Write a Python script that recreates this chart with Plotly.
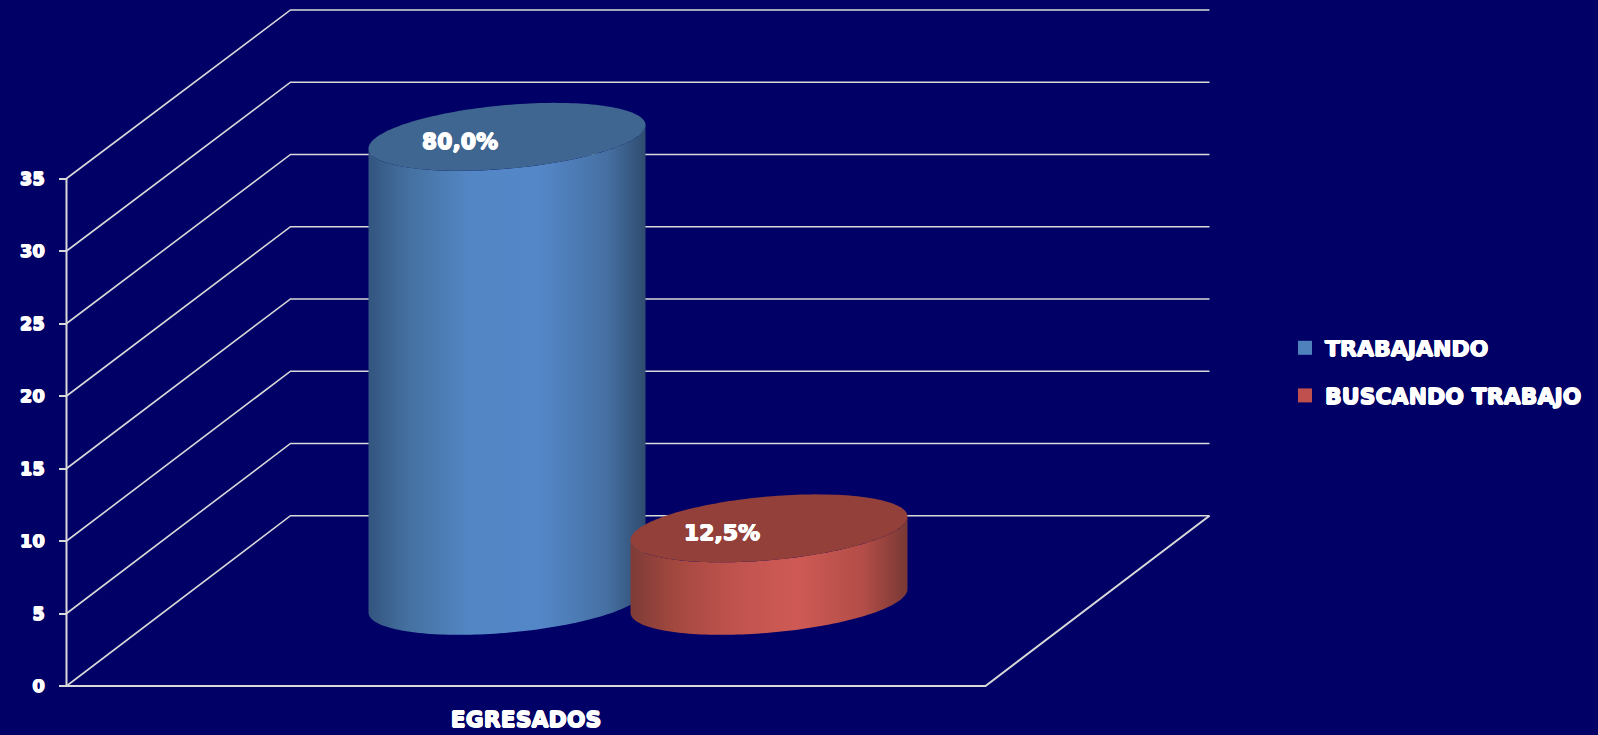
import numpy as np
import plotly.graph_objects as go

# ---------- data ----------
categories = ["EGRESADOS"]
series_names = ["TRABAJANDO", "BUSCANDO TRABAJO"]
series_values = [32, 5]
value_labels = ["80,0%", "12,5%"]
y_ticks = [0, 5, 10, 15, 20, 25, 30, 35]

# ---------- style / geometry ----------
BG = "#000066"
LINE = "#d9d9d9"
FONT = "DejaVu Sans"
W, H = 1598, 735
X0, Y0 = 66.5, 686.0          # front-left corner of the floor (px)
FLOOR_W = 919.0               # front edge length (px)
DX, DY = 224.0, 170.3         # offset of the back wall (px)
K = 14.5                      # px per value unit
BACK = 0.9965                 # back wall is very slightly shorter
rise = DY / K
CAT_X = X0 + FLOOR_W / 2
SLOT = 131.0                  # bar offset from the category centre
A, B, C = 138.5, 11.7, 31.9   # ellipse of a cylinder end
DEPTH = 0.5
HEAVY = "0.7px 0 0 #fff,-0.7px 0 0 #fff,0 0.7px 0 #fff,0 -0.7px 0 #fff"

sides = [
    [[0, "#33557f"], [0.14, "#44709f"], [0.36, "#5386c4"], [0.62, "#5487c8"], [0.86, "#4670a3"], [1, "#2f4c70"]],
    [[0, "#7e3b37"], [0.16, "#a3483f"], [0.36, "#bf524d"], [0.6, "#cf5a55"], [0.84, "#b34d47"], [1, "#783835"]],
]
tops = ["#3f6690", "#933f3a"]
swatches = ["#4f81bd", "#c0504d"]


def heavy_font(size):
    return dict(family=FONT, size=size, color="white", weight="bold", shadow=HEAVY)


fig = go.Figure()

# walls and floor, all projected from the axis values
wx, wy = [], []
for v in y_ticks:
    wx += [X0, X0 + DX, X0 + DX + FLOOR_W, None]
    wy += [v, v * BACK + rise, v * BACK + rise, None]
fig.add_trace(go.Scatter(x=wx, y=wy, mode="lines", line=dict(color=LINE, width=1.6),
                         showlegend=False, hoverinfo="skip"))
fig.add_trace(go.Scatter(
    x=[X0, X0, None, X0, X0 + FLOOR_W, X0 + FLOOR_W + DX],
    y=[y_ticks[-1], 0, None, 0, 0, rise],
    mode="lines", line=dict(color=LINE, width=2), showlegend=False, hoverinfo="skip"))

# cylinders
for i, (name, val, lab) in enumerate(zip(series_names, series_values, value_labels)):
    cx = CAT_X + (i * 2 - 1) * SLOT + DX * DEPTH
    base = rise * DEPTH
    t = np.linspace(0, np.pi, 90)
    ex = cx + A * np.cos(t)
    ed = (B * np.cos(t) - C * np.sin(t)) / K
    sx = np.concatenate([ex, ex[::-1], ex[:1]])
    sy = np.concatenate([base + val + ed, (base + ed)[::-1], [base + val + ed[0]]])
    fig.add_trace(go.Scatter(
        x=sx, y=sy, mode="none", fill="toself",
        fillgradient=dict(type="horizontal", colorscale=sides[i]),
        showlegend=False, hoverinfo="skip"))
    t2 = np.linspace(0, 2 * np.pi, 180)
    fig.add_trace(go.Scatter(
        x=cx + A * np.cos(t2),
        y=base + val + (B * np.cos(t2) - C * np.sin(t2)) / K,
        mode="none", fill="toself", fillcolor=tops[i],
        showlegend=False, hoverinfo="skip"))
    fig.add_trace(go.Scatter(
        x=[cx - 47], y=[base + val - 0.45], mode="text", text=[lab],
        textposition="middle center",
        textfont=heavy_font(22),
        showlegend=False, hoverinfo="skip", cliponaxis=False))

# legend entries
for i, name in enumerate(series_names):
    fig.add_trace(go.Scatter(
        x=[None], y=[None], mode="markers", name=name, legendgroup=name,
        marker=dict(symbol="square", size=14, color=swatches[i])))

fig.update_layout(
    width=W, height=H, autosize=False,
    margin=dict(l=0, r=0, t=0, b=0),
    paper_bgcolor=BG, plot_bgcolor=BG,
    font=dict(family=FONT, color="white"),
    hovermode=False,
    xaxis=dict(range=[0, W], showgrid=False, zeroline=False, showline=False,
               anchor="free", position=(H - Y0) / H, tickmode="array",
               tickvals=[CAT_X], ticktext=categories, ticks="",
               ticklabelstandoff=18,
               tickfont=heavy_font(22),
               automargin=False),
    yaxis=dict(range=[(Y0 - H) / K, Y0 / K], showgrid=False, zeroline=False, showline=False,
               anchor="free", position=X0 / W, tickmode="array",
               tickvals=y_ticks, ticks="outside", ticklen=8, tickwidth=2, tickcolor=LINE,
               ticklabelstandoff=10,
               tickfont=heavy_font(18),
               automargin=False),
    legend=dict(x=1285 / W, y=1 - 372 / H, xanchor="left", yanchor="middle",
                bgcolor="rgba(0,0,0,0)", traceorder="grouped", tracegroupgap=16,
                font=heavy_font(22),
                itemclick=False, itemdoubleclick=False),
    showlegend=True,
)

fig.write_html(
    "out.html",
    config={"displayModeBar": False},
    post_script="document.body.style.margin='0';document.body.style.background='#000066';document.body.style.overflow='hidden';",
)
